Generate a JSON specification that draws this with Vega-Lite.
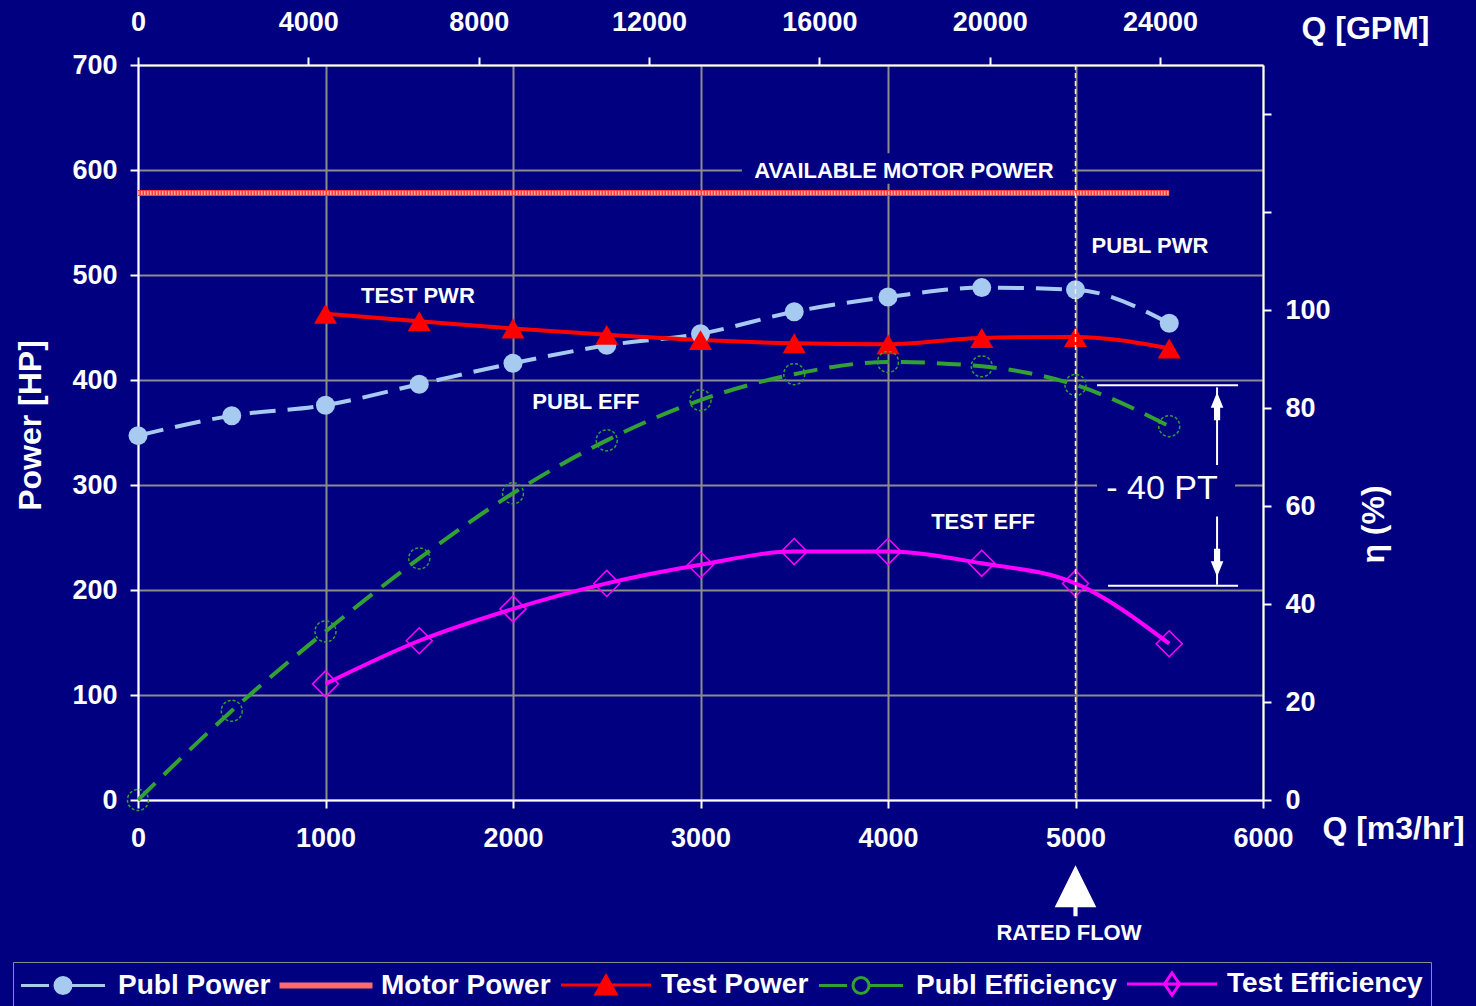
{
  "$schema": "https://vega.github.io/schema/vega-lite/v6.json",
  "width": 1125,
  "height": 735,
  "autosize": {"type": "none"},
  "padding": {"left": 138, "top": 65, "right": 213, "bottom": 206},
  "background": "#000080",
  "config": {
    "view": {"stroke": null},
    "axis": {
      "domainColor": "#ffffff", "domainWidth": 2, "tickColor": "#ffffff", "tickWidth": 2, "tickSize": 8,
      "labelColor": "#ffffff", "labelFont": "Liberation Sans", "labelFontSize": 27, "labelFontWeight": "bold",
      "labelFlush": false, "labelOverlap": false,
      "titleColor": "#ffffff", "titleFont": "Liberation Sans", "titleFontSize": 32, "titleFontWeight": "bold",
      "gridColor": "#8c8c8c", "gridWidth": 2, "gridOpacity": 1
    },
    "legend": {
      "title": null, "orient": "none", "legendX": -125, "legendY": 897, "direction": "horizontal",
      "strokeColor": "#8c8c8c", "padding": 8,
      "labelFont": "Liberation Sans", "labelFontSize": 28, "labelFontWeight": "bold", "labelColor": "#ffffff", "labelLimit": 400,
      "labelOffset": 41, "symbolOffset": 28, "symbolSize": 400, "symbolStrokeWidth": 3, "columnPadding": 4, "symbolOpacity": 1
    }
  },
  "datasets": {
    "power": [
      {"series": "Publ Power", "q": 0, "hp": 347},
      {"series": "Publ Power", "q": 500, "hp": 366},
      {"series": "Publ Power", "q": 1000, "hp": 376},
      {"series": "Publ Power", "q": 1500, "hp": 396},
      {"series": "Publ Power", "q": 2000, "hp": 416},
      {"series": "Publ Power", "q": 2500, "hp": 433},
      {"series": "Publ Power", "q": 3000, "hp": 444},
      {"series": "Publ Power", "q": 3500, "hp": 465},
      {"series": "Publ Power", "q": 4000, "hp": 479},
      {"series": "Publ Power", "q": 4500, "hp": 488},
      {"series": "Publ Power", "q": 5000, "hp": 486},
      {"series": "Publ Power", "q": 5500, "hp": 454},
      {"series": "Test Power", "q": 1000, "hp": 463},
      {"series": "Test Power", "q": 1500, "hp": 456},
      {"series": "Test Power", "q": 2000, "hp": 449},
      {"series": "Test Power", "q": 2500, "hp": 443},
      {"series": "Test Power", "q": 3000, "hp": 438},
      {"series": "Test Power", "q": 3500, "hp": 435},
      {"series": "Test Power", "q": 4000, "hp": 434},
      {"series": "Test Power", "q": 4500, "hp": 440},
      {"series": "Test Power", "q": 5000, "hp": 441},
      {"series": "Test Power", "q": 5500, "hp": 430}
    ],
    "motor": [
      {"series": "Motor Power", "q": 0, "hp": 578},
      {"series": "Motor Power", "q": 5500, "hp": 578}
    ],
    "eff": [
      {"series": "Publ Efficiency", "q": 0, "pct": 0},
      {"series": "Publ Efficiency", "q": 500, "pct": 18.2},
      {"series": "Publ Efficiency", "q": 1000, "pct": 34.4},
      {"series": "Publ Efficiency", "q": 1500, "pct": 49.3},
      {"series": "Publ Efficiency", "q": 2000, "pct": 62.6},
      {"series": "Publ Efficiency", "q": 2500, "pct": 73.4},
      {"series": "Publ Efficiency", "q": 3000, "pct": 81.6},
      {"series": "Publ Efficiency", "q": 3500, "pct": 86.9},
      {"series": "Publ Efficiency", "q": 4000, "pct": 89.4},
      {"series": "Publ Efficiency", "q": 4500, "pct": 88.5},
      {"series": "Publ Efficiency", "q": 5000, "pct": 84.7},
      {"series": "Publ Efficiency", "q": 5500, "pct": 76.3},
      {"series": "Test Efficiency", "q": 1000, "pct": 23.7},
      {"series": "Test Efficiency", "q": 1500, "pct": 32.5},
      {"series": "Test Efficiency", "q": 2000, "pct": 39.0},
      {"series": "Test Efficiency", "q": 2500, "pct": 44.2},
      {"series": "Test Efficiency", "q": 3000, "pct": 48.0},
      {"series": "Test Efficiency", "q": 3500, "pct": 50.7},
      {"series": "Test Efficiency", "q": 4000, "pct": 50.7},
      {"series": "Test Efficiency", "q": 4500, "pct": 48.3},
      {"series": "Test Efficiency", "q": 5000, "pct": 44.2},
      {"series": "Test Efficiency", "q": 5500, "pct": 31.9}
    ],
    "legendKeys": [
      {"series": "Publ Power"}, {"series": "Motor Power"}, {"series": "Test Power"}, {"series": "Publ Efficiency"}, {"series": "Test Efficiency"}
    ],
    "notes": [
      {"q": 4085, "hp": 599, "label": "AVAILABLE MOTOR POWER"},
      {"q": 5397, "hp": 528, "label": "PUBL PWR"},
      {"q": 1493, "hp": 480, "label": "TEST PWR"},
      {"q": 2389, "hp": 379, "label": "PUBL EFF"},
      {"q": 4507, "hp": 265, "label": "TEST EFF"},
      {"q": 4965, "hp": -127, "label": "RATED FLOW"}
    ],
    "bignote": [{"q": 5461, "hp": 296, "label": "- 40 PT"}],
    "boxes": [
      {"q": 3221, "q2": 4981, "hp": 587, "hp2": 616},
      {"q": 5115, "q2": 5851, "hp": 271, "hp2": 318}
    ],
    "dims": [
      {"q": 5115, "q2": 5867, "hp": 395, "hp2": 395},
      {"q": 5173, "q2": 5867, "hp": 204, "hp2": 204},
      {"q": 5755, "q2": 5755, "hp": 393, "hp2": 319},
      {"q": 5755, "q2": 5755, "hp": 270, "hp2": 205}
    ],
    "arrowUp": [{"q": 5755, "hp": 375}],
    "arrowDown": [{"q": 5755, "hp": 226}],
    "rated": [{"q": 5000, "hp": -86}],
    "ratedLine": [{"q": 5000}],
    "gpm": [{"gpm": 0}, {"gpm": 24000}]
  },
  "layer": [
    {
      "encoding": {
        "x": {"field": "q", "type": "quantitative", "scale": {"domain": [0, 6000], "nice": false, "zero": false},
          "axis": {"orient": "bottom", "values": [0, 1000, 2000, 3000, 4000, 5000, 6000], "grid": true, "format": "d",
            "title": "Q [m3/hr]", "titleX": 1255, "titleY": 28, "titleAngle": 0, "titleAlign": "center", "titleBaseline": "middle", "labelPadding": 17}},
        "y": {"field": "hp", "type": "quantitative", "scale": {"domain": [0, 700], "nice": false, "zero": false},
          "axis": {"orient": "left", "values": [0, 100, 200, 300, 400, 500, 600, 700], "grid": true, "format": "d",
            "title": "Power [HP]", "titleX": -108, "titleY": 360, "titleAngle": 270, "titleAlign": "center", "titleBaseline": "middle", "labelPadding": 13}}
      },
      "layer": [
        {"data": {"name": "boxes"}, "mark": {"type": "rect", "color": "#000080"},
          "encoding": {"x2": {"field": "q2"}, "y2": {"field": "hp2"}}},
        {"data": {"name": "motor"}, "mark": {"type": "line", "color": "#ff3a3a", "strokeWidth": 6}},
        {"data": {"name": "motor"}, "mark": {"type": "line", "color": "#ffffff", "strokeWidth": 4, "strokeDash": [1.5, 1.5], "opacity": 0.55}},
        {"data": {"name": "power"}, "transform": [{"filter": "datum.series === 'Publ Power'"}],
          "mark": {"type": "line", "color": "#a6caf0", "strokeWidth": 4, "strokeDash": [26, 12], "interpolate": "monotone"}},
        {"data": {"name": "power"}, "transform": [{"filter": "datum.series === 'Test Power'"}],
          "mark": {"type": "line", "color": "#ff0000", "strokeWidth": 4, "interpolate": "monotone"}},
        {"data": {"name": "power"}, "transform": [{"filter": "datum.series === 'Publ Power'"}],
          "mark": {"type": "point", "shape": "circle", "filled": true, "color": "#a6caf0", "size": 361, "opacity": 1}},
        {"data": {"name": "power"}, "transform": [{"filter": "datum.series === 'Test Power'"}],
          "mark": {"type": "point", "shape": "triangle-up", "filled": true, "color": "#ff0000", "size": 530, "opacity": 1}},
        {"data": {"name": "dims"}, "mark": {"type": "rule", "color": "#ffffff", "strokeWidth": 2},
          "encoding": {"x2": {"field": "q2"}, "y2": {"field": "hp2"}}},
        {"data": {"name": "arrowUp"}, "mark": {"type": "point", "shape": "M0,-1L0.45,0.1H0.22V1H-0.22V0.1H-0.45Z", "filled": true, "color": "#ffffff", "size": 784, "opacity": 1}},
        {"data": {"name": "arrowDown"}, "mark": {"type": "point", "shape": "M0,1L0.45,-0.1H0.22V-1H-0.22V-0.1H-0.45Z", "filled": true, "color": "#ffffff", "size": 784, "opacity": 1}},
        {"data": {"name": "rated"}, "mark": {"type": "point", "shape": "M0,-0.96L0.8,0.65L-0.8,0.65Z M-0.08,0.65H0.08V1H-0.08Z", "filled": true, "color": "#ffffff", "size": 2704, "opacity": 1}},
        {"data": {"name": "notes"}, "mark": {"type": "text", "font": "Liberation Sans", "fontSize": 22, "fontWeight": "bold", "color": "#ffffff", "align": "center", "baseline": "middle"},
          "encoding": {"text": {"field": "label", "type": "nominal"}}},
        {"data": {"name": "bignote"}, "mark": {"type": "text", "font": "Liberation Sans", "fontSize": 34, "fontWeight": "normal", "color": "#ffffff", "align": "center", "baseline": "middle"},
          "encoding": {"text": {"field": "label", "type": "nominal"}}},
        {"data": {"name": "legendKeys"}, "transform": [{"filter": "datum.series === 'none'"}],
          "mark": {"type": "point", "filled": true, "opacity": 1, "strokeWidth": 3},
          "encoding": {
            "x": {"datum": 0}, "y": {"datum": 0},
            "shape": {"field": "series", "type": "nominal",
              "scale": {"domain": ["Publ Power", "Motor Power", "Test Power", "Publ Efficiency", "Test Efficiency"],
                "range": [
                  "M-4.2,0H-1.4M0.8,0H4.2M-0.8,0A0.8,0.8 0 1,0 0.8,0A0.8,0.8 0 1,0 -0.8,0Z",
                  "M-4.5,-0.15H4.5V0.15H-4.5Z",
                  "M-4.5,0H4.5M0,-0.9L1,0.9L-1,0.9Z",
                  "M-4.2,0H-1.4M0.8,0H4.2M-0.8,0A0.8,0.8 0 1,0 0.8,0A0.8,0.8 0 1,0 -0.8,0Z",
                  "M-4.5,0H4.5M0,-1.1L0.75,0L0,1.1L-0.75,0Z"]}},
            "fill": {"field": "series", "type": "nominal",
              "scale": {"domain": ["Publ Power", "Motor Power", "Test Power", "Publ Efficiency", "Test Efficiency"],
                "range": ["#a6caf0", "#ff6a6a", "#ff0000", "transparent", "transparent"]}},
            "stroke": {"field": "series", "type": "nominal",
              "scale": {"domain": ["Publ Power", "Motor Power", "Test Power", "Publ Efficiency", "Test Efficiency"],
                "range": ["#a6caf0", "#ff6a6a", "#ff0000", "#33a033", "#ff00ff"]}}
          }}
      ]
    },
    {
      "data": {"name": "eff"},
      "encoding": {
        "x": {"field": "q", "type": "quantitative", "scale": {"domain": [0, 6000], "nice": false, "zero": false}, "axis": null},
        "y": {"field": "pct", "type": "quantitative", "scale": {"domain": [0, 150], "nice": false, "zero": false},
          "axis": {"orient": "right", "values": [0, 20, 40, 60, 80, 100, 120, 140], "labelExpr": "datum.value <= 100 ? datum.label : ''",
            "grid": false, "format": "d", "title": "η (%)", "titleX": 110, "titleY": 459, "titleAngle": 270, "titleAlign": "center", "titleBaseline": "middle", "labelPadding": 14}}
      },
      "layer": [
        {"transform": [{"filter": "datum.series === 'Publ Efficiency'"}],
          "mark": {"type": "line", "color": "#33a033", "strokeWidth": 4, "strokeDash": [24, 12], "interpolate": "monotone"}},
        {"transform": [{"filter": "datum.series === 'Test Efficiency'"}],
          "mark": {"type": "line", "color": "#ff00ff", "strokeWidth": 4, "interpolate": "monotone"}},
        {"transform": [{"filter": "datum.series === 'Publ Efficiency'"}],
          "mark": {"type": "point", "shape": "circle", "filled": false, "color": "#33a033", "size": 441, "strokeWidth": 1.5, "strokeDash": [3, 2], "opacity": 1}},
        {"transform": [{"filter": "datum.series === 'Test Efficiency'"}],
          "mark": {"type": "point", "shape": "diamond", "filled": false, "color": "#ff00ff", "size": 676, "strokeWidth": 1.5, "opacity": 1}}
      ]
    },
    {
      "data": {"name": "ratedLine"},
      "mark": {"type": "rule", "color": "#ffff66", "strokeWidth": 1.5, "strokeDash": [5, 3]},
      "encoding": {"x": {"field": "q", "type": "quantitative", "scale": {"domain": [0, 6000], "nice": false, "zero": false}, "axis": null}}
    },
    {
      "data": {"name": "gpm"},
      "mark": {"type": "point", "opacity": 0},
      "encoding": {"x": {"field": "gpm", "type": "quantitative", "scale": {"domain": [0, 26417.2], "nice": false, "zero": false},
        "axis": {"orient": "top", "values": [0, 4000, 8000, 12000, 16000, 20000, 24000], "grid": false, "format": "d",
          "title": "Q [GPM]", "titleX": 1227, "titleY": -37, "titleAngle": 0, "titleAlign": "center", "titleBaseline": "middle", "labelPadding": 21}}}
    }
  ],
  "resolve": {"scale": {"x": "independent", "y": "independent"}}
}
